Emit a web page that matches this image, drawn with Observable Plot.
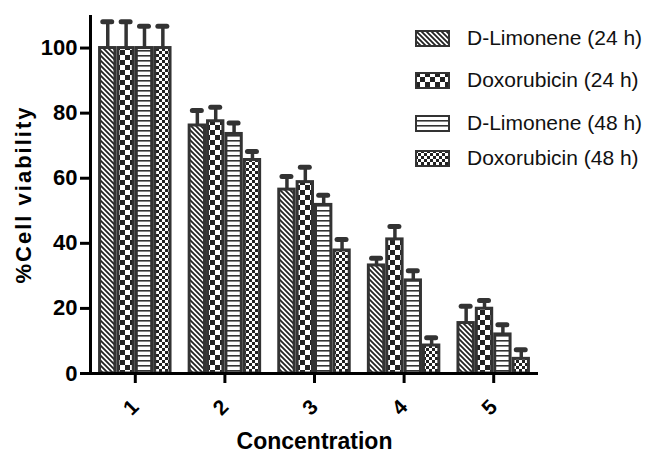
<!DOCTYPE html>
<html><head><meta charset="utf-8">
<script src="https://cdn.jsdelivr.net/npm/d3@7"></script>
<script src="https://cdn.jsdelivr.net/npm/@observablehq/plot@0.6"></script>
<style>
body{margin:0;background:#fff;font-family:"Liberation Sans",Arial,sans-serif;}
#wrap{position:relative;width:651px;height:453px;overflow:hidden}
#legend{position:absolute;left:415px;top:0;width:236px;height:190px}
.item{position:absolute;left:0;height:24px;display:flex;align-items:center;white-space:nowrap;font-size:21px;color:#111;}
.item svg{margin-right:17px;flex:none}
</style></head><body>
<svg width="0" height="0" style="position:absolute">
<defs>
<pattern id="pat0" patternUnits="userSpaceOnUse" width="5" height="5">
<rect width="5" height="5" fill="#fff"/>
<path d="M-1,-1L6,6M-1,4L1,6M4,-1L6,1" stroke="#222" stroke-width="1.8"/>
</pattern>
<pattern id="pat1" patternUnits="userSpaceOnUse" width="10" height="10">
<rect width="10" height="10" fill="#fff"/>
<rect width="5" height="5" fill="#222"/>
<rect x="5" y="5" width="5" height="5" fill="#222"/>
</pattern>
<pattern id="pat2" patternUnits="userSpaceOnUse" width="5" height="5">
<rect width="5" height="5" fill="#fff"/>
<rect y="0" width="5" height="1.6" fill="#333"/>
</pattern>
<pattern id="pat3" patternUnits="userSpaceOnUse" width="6" height="6">
<rect width="6" height="6" fill="#fff"/>
<rect width="3" height="3" fill="#222"/>
<rect x="3" y="3" width="3" height="3" fill="#222"/>
</pattern>
</defs></svg>
<div id="wrap"><div id="chart"></div><div id="legend"></div></div>
<script>
// ---- data ----
const concentrations = ["1", "2", "3", "4", "5"];
const seriesNames = ["D-Limonene (24 h)", "Doxorubicin (24 h)", "D-Limonene (48 h)", "Doxorubicin (48 h)"];
const dLimonene24 = [100, 76.2, 56.5, 33.2, 15.5];
const doxorubicin24 = [100, 77.5, 58.8, 41.2, 19.9];
const dLimonene48 = [100, 73.6, 51.8, 28.6, 12.0];
const doxorubicin48 = [100, 65.6, 37.8, 8.6, 4.5];
const dLimonene24Err = [8.1, 4.6, 4.0, 2.2, 5.2];
const doxorubicin24Err = [8.1, 4.3, 4.6, 4.0, 2.5];
const dLimonene48Err = [6.7, 3.4, 3.0, 3.0, 3.0];
const doxorubicin48Err = [6.7, 2.6, 3.4, 2.4, 2.8];
const yTicks = [0, 20, 40, 60, 80, 100];

const values = [dLimonene24, doxorubicin24, dLimonene48, doxorubicin48];
const errors = [dLimonene24Err, doxorubicin24Err, dLimonene48Err, doxorubicin48Err];
const patterns = ["url(#pat0)", "url(#pat1)", "url(#pat2)", "url(#pat3)"];

const data = [];
concentrations.forEach((c, i) => seriesNames.forEach((s, j) => {
  data.push({conc: i + 1, label: c, series: s, idx: j, v: values[j][i], e: errors[j][i], fill: patterns[j]});
}));

const W = 0.205;
const pos = d => d.conc + (d.idx - 1.5) * W;
const font = "'Liberation Sans', Arial, sans-serif";

const chart = Plot.plot({
  width: 651, height: 453,
  marginLeft: 90, marginRight: 113, marginTop: 15, marginBottom: 80,
  style: {fontFamily: font, color: "#000", background: "#fff", overflow: "visible"},
  x: {domain: [0.5, 5.5]},
  y: {domain: [0, 110]},
  color: {type: "identity"},
  marks: [
    Plot.ruleX(data, {x: pos, y1: "v", y2: d => d.v + d.e, stroke: "#333", strokeWidth: 3.5}),
    Plot.ruleY(data, {y: d => d.v + d.e, x1: d => pos(d) - 0.05, x2: d => pos(d) + 0.05, stroke: "#333", strokeWidth: 5, strokeLinecap: "round"}),
    Plot.rectY(data, {x1: d => pos(d) - W / 2, x2: d => pos(d) + W / 2, y1: 0, y2: "v", fill: "fill", stroke: "#333", strokeWidth: 3, insetLeft: 1.5, insetRight: 1.5}),
    Plot.ruleY([0], {stroke: "#000", strokeWidth: 3}),
    Plot.ruleX([0.5], {stroke: "#000", strokeWidth: 3}),
    Plot.axisY({ticks: yTicks, tickSize: 10, tickPadding: 3, fontSize: 22, fontWeight: "bold", strokeWidth: 3,
      label: "%Cell viability", labelArrow: "none", labelAnchor: "center", labelOffset: 75}),
    Plot.axisX({ticks: [1, 2, 3, 4, 5], tickFormat: i => concentrations[i - 1], tickSize: 10, tickRotate: -45, tickPadding: 20,
      fontSize: 21, fontWeight: "bold", strokeWidth: 3, label: "Concentration", labelArrow: "none", labelAnchor: "center", labelOffset: 75})
  ]
});
document.getElementById("chart").appendChild(chart);

// axis title sizing
d3.select(chart).selectAll('[aria-label="y-axis label"] text')
  .text("%Cell viability").style("font-size", "22px").style("letter-spacing", "2px");
d3.select(chart).selectAll('[aria-label="x-axis label"] text')
  .text("Concentration").style("font-size", "23px");

// legend
const legendRows = [38, 80, 123, 158];
const lg = document.getElementById("legend");
seriesNames.forEach((s, j) => {
  const item = document.createElement("div");
  item.className = "item";
  item.style.top = (legendRows[j] - 12) + "px";
  item.innerHTML = `<svg width="35" height="17"><rect x="1" y="1" width="33" height="15" fill="${patterns[j]}" stroke="#333" stroke-width="2"/></svg><span>${s}</span>`;
  lg.appendChild(item);
});
</script>
</body></html>
